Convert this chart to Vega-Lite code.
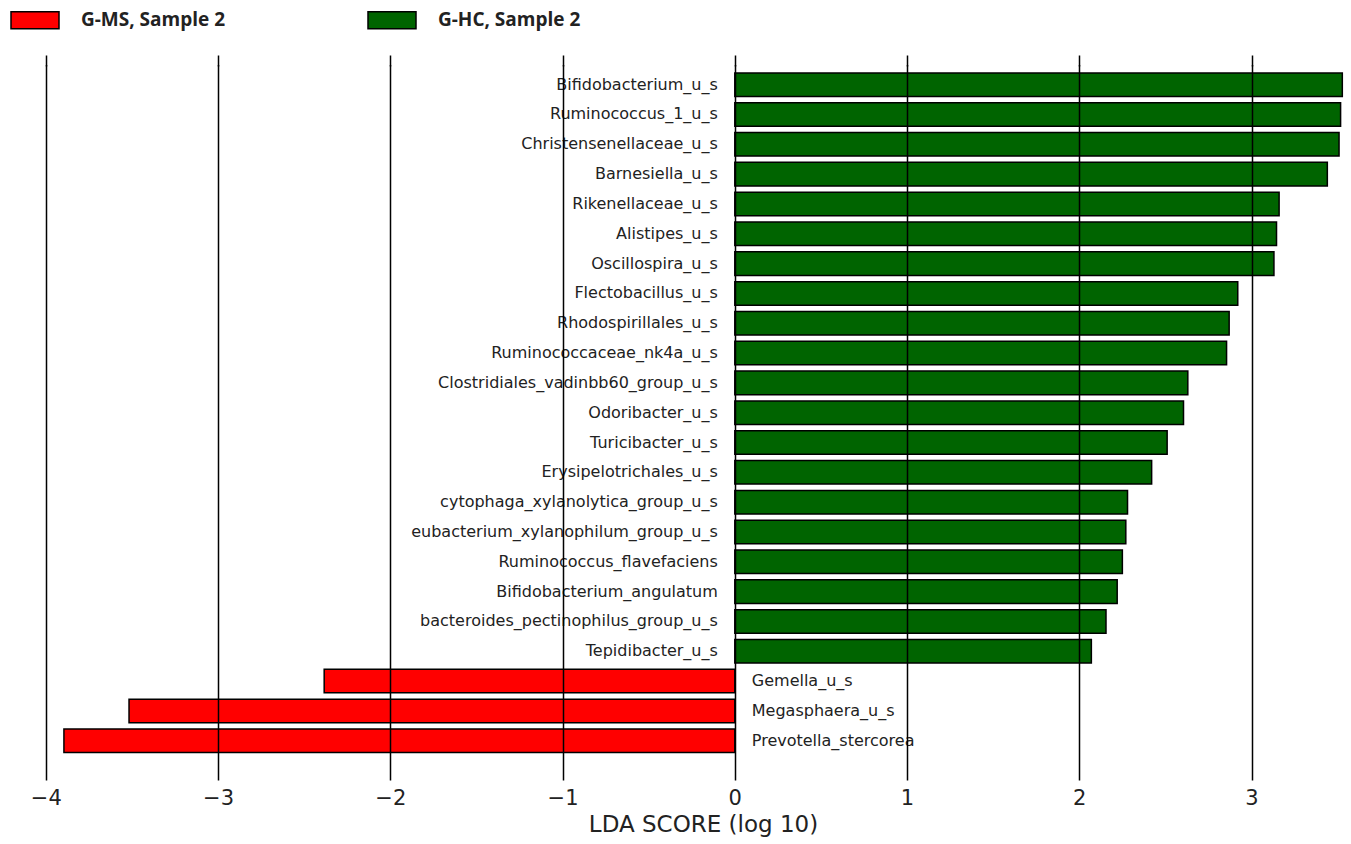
{
  "$schema": "https://vega.github.io/schema/vega-lite/v6.json",
  "width": 1328,
  "height": 725,
  "autosize": {"type": "none"},
  "padding": {"left": 20, "top": 55, "right": 3, "bottom": 64},
  "background": "white",
  "config": {"view": {"stroke": null}, "font": "DejaVu Sans"},
  "data": {
    "values": [
      {"name": "Bifidobacterium_u_s", "lda": 3.527, "group": "G-HC, Sample 2"},
      {"name": "Ruminococcus_1_u_s", "lda": 3.517, "group": "G-HC, Sample 2"},
      {"name": "Christensenellaceae_u_s", "lda": 3.508, "group": "G-HC, Sample 2"},
      {"name": "Barnesiella_u_s", "lda": 3.44, "group": "G-HC, Sample 2"},
      {"name": "Rikenellaceae_u_s", "lda": 3.16, "group": "G-HC, Sample 2"},
      {"name": "Alistipes_u_s", "lda": 3.145, "group": "G-HC, Sample 2"},
      {"name": "Oscillospira_u_s", "lda": 3.13, "group": "G-HC, Sample 2"},
      {"name": "Flectobacillus_u_s", "lda": 2.92, "group": "G-HC, Sample 2"},
      {"name": "Rhodospirillales_u_s", "lda": 2.87, "group": "G-HC, Sample 2"},
      {"name": "Ruminococcaceae_nk4a_u_s", "lda": 2.855, "group": "G-HC, Sample 2"},
      {"name": "Clostridiales_vadinbb60_group_u_s", "lda": 2.63, "group": "G-HC, Sample 2"},
      {"name": "Odoribacter_u_s", "lda": 2.605, "group": "G-HC, Sample 2"},
      {"name": "Turicibacter_u_s", "lda": 2.51, "group": "G-HC, Sample 2"},
      {"name": "Erysipelotrichales_u_s", "lda": 2.42, "group": "G-HC, Sample 2"},
      {"name": "cytophaga_xylanolytica_group_u_s", "lda": 2.28, "group": "G-HC, Sample 2"},
      {"name": "eubacterium_xylanophilum_group_u_s", "lda": 2.27, "group": "G-HC, Sample 2"},
      {"name": "Ruminococcus_flavefaciens", "lda": 2.25, "group": "G-HC, Sample 2"},
      {"name": "Bifidobacterium_angulatum", "lda": 2.22, "group": "G-HC, Sample 2"},
      {"name": "bacteroides_pectinophilus_group_u_s", "lda": 2.155, "group": "G-HC, Sample 2"},
      {"name": "Tepidibacter_u_s", "lda": 2.07, "group": "G-HC, Sample 2"},
      {"name": "Gemella_u_s", "lda": -2.384, "group": "G-MS, Sample 2"},
      {"name": "Megasphaera_u_s", "lda": -3.517, "group": "G-MS, Sample 2"},
      {"name": "Prevotella_stercorea", "lda": -3.895, "group": "G-MS, Sample 2"}
    ]
  },
  "encoding": {
    "y": {
      "field": "name",
      "type": "nominal",
      "sort": null,
      "scale": {"range": [0, 715.4], "paddingInner": 0.21, "paddingOuter": 0.6},
      "axis": null
    }
  },
  "resolve": {"axis": {"x": "independent"}},
  "layer": [
    {
      "mark": {"type": "bar", "stroke": "black", "strokeWidth": 1.5},
      "encoding": {
        "x": {
          "field": "lda",
          "type": "quantitative",
          "scale": {"domain": [-4.15, 3.56], "nice": false, "zero": false},
          "axis": {
            "values": [-4, -3, -2, -1, 0, 1, 2, 3],
            "grid": true,
            "gridColor": "black",
            "gridWidth": 1.5,
            "gridOpacity": 1,
            "domain": false,
            "ticks": false,
            "labelFontSize": 21,
            "labelPadding": 7,
            "labelColor": "#222",
            "labelFlush": false,
            "title": "LDA SCORE (log 10)",
            "titleFontSize": 23,
            "titleFontWeight": "normal",
            "titleColor": "#222",
            "titlePadding": 5,
            "titleX": 683,
            "titleAlign": "center",
            "zindex": 1
          }
        },
        "color": {
          "field": "group",
          "type": "nominal",
          "scale": {"domain": ["G-MS, Sample 2", "G-HC, Sample 2"], "range": ["#ff0000", "#006400"]},
          "legend": {
            "title": null,
            "orient": "none",
            "legendX": -10,
            "legendY": -60,
            "direction": "horizontal",
            "symbolType": "M-1,-0.354H1V0.354H-1Z",
            "symbolSize": 2304,
            "symbolStrokeColor": "black",
            "symbolStrokeWidth": 1.5,
            "symbolOpacity": 1,
            "labelFont": "Open Sans",
            "labelFontWeight": "bold",
            "labelFontSize": 19,
            "labelColor": "#222",
            "labelOffset": 21,
            "columnPadding": 139,
            "padding": 0
          }
        }
      }
    },
    {
      "transform": [{"filter": "datum.lda > 0"}],
      "mark": {"type": "text", "align": "right", "baseline": "middle", "dx": -17, "fontSize": 16, "color": "#222"},
      "encoding": {
        "x": {
          "datum": 0,
          "type": "quantitative",
          "axis": {
            "orient": "top",
            "values": [-4, -3, -2, -1, 0, 1, 2, 3],
            "labels": false,
            "domain": false,
            "grid": false,
            "ticks": true,
            "tickSize": -11,
            "tickColor": "black",
            "tickWidth": 1.5,
            "tickOpacity": 1,
            "title": null,
            "zindex": 1
          }
        },
        "text": {"field": "name"}
      }
    },
    {
      "transform": [{"filter": "datum.lda < 0"}],
      "mark": {"type": "text", "align": "left", "baseline": "middle", "dx": 17, "fontSize": 16, "color": "#222"},
      "encoding": {"x": {"datum": 0, "type": "quantitative", "axis": null}, "text": {"field": "name"}}
    }
  ]
}
